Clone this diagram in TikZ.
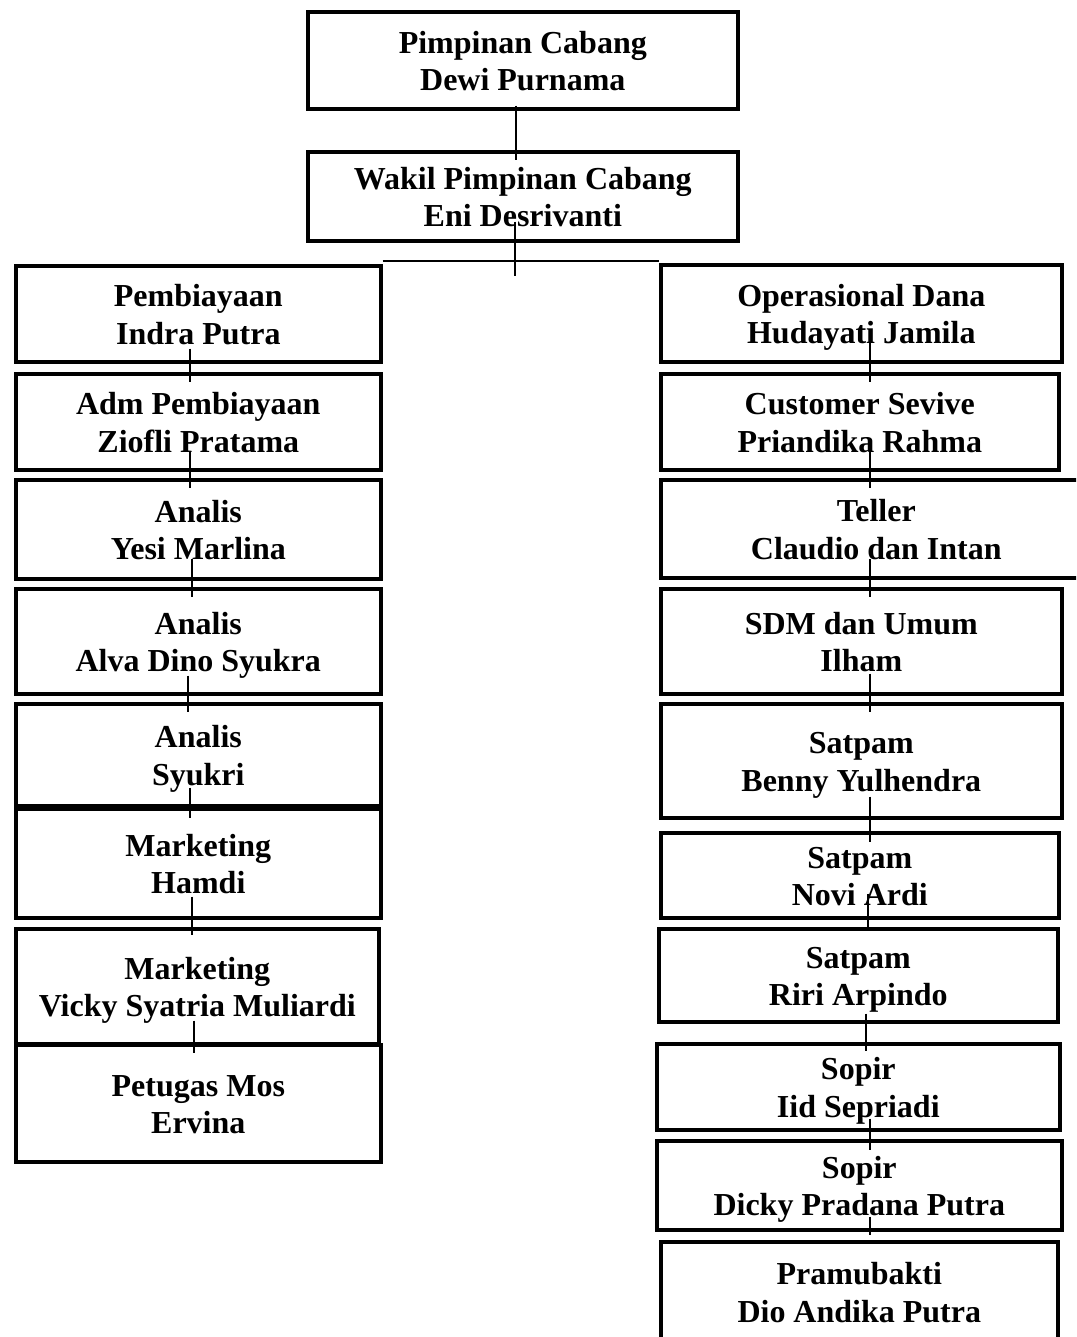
\documentclass[tikz,border=0pt]{standalone}
\usepackage{fontspec}
\setmainfont{Liberation Serif}
\def\ColL{14}
\def\ColR{659}
\def\WdL{365}
\def\WdR{401}
\tikzset{
  post/.style={
    draw=black, line width=3.6pt, anchor=north west,
    align=center, inner sep=0pt,
    font=\fontsize{32}{37.5}\selectfont\bfseries,
    execute at begin node={\rule{0pt}{68pt}}, execute at end node={\rule[-7pt]{0pt}{7pt}},
  },
  link/.style={line width=1.8pt, draw=black},
}

\begin{document}
\begin{tikzpicture}[x=1pt,y=-1pt]
  \useasboundingbox (0,0) rectangle (1076,1337);
  \clip (0,0) rectangle (1076,1337);

  % pimpinan
  \node[post, minimum width=430, minimum height=97] (pc) at (306,10) {Pimpinan Cabang\\Dewi Purnama};
  \node[post, minimum width=430, minimum height=89] (wpc) at (306,150) {Wakil Pimpinan Cabang\\Eni Desrivanti};

  % kolom kiri
  \node[post, minimum width=\WdL, minimum height=96] (pby) at (\ColL,264) {Pembiayaan\\Indra Putra};
  \node[post, minimum width=\WdL, minimum height=96] (adm) at (\ColL,372) {Adm Pembiayaan\\Ziofli Pratama};
  \node[post, minimum width=\WdL, minimum height=99] (an1) at (\ColL,478) {Analis\\Yesi Marlina};
  \node[post, minimum width=\WdL, minimum height=105] (an2) at (\ColL,587) {Analis\\Alva Dino Syukra};
  \node[post, minimum width=\WdL, minimum height=102] (an3) at (\ColL,702) {Analis\\Syukri};
  \node[post, minimum width=\WdL, minimum height=109] (mk1) at (\ColL,807) {Marketing\\Hamdi};
  \node[post, minimum width=363, minimum height=115] (mk2) at (\ColL,927) {Marketing\\Vicky Syatria Muliardi};
  \node[post, minimum width=\WdL, minimum height=117] (mos) at (\ColL,1043) {Petugas Mos\\Ervina};

  % kolom kanan
  \node[post, minimum width=\WdR, minimum height=97] (ops) at (\ColR,263) {Operasional Dana\\Hudayati Jamila};
  \node[post, minimum width=398, minimum height=96] (cs) at (\ColR,372) {Customer Sevive\\Priandika Rahma};
  \node[post, minimum width=431, minimum height=98] (tel) at (\ColR,478) {Teller\\Claudio dan Intan};
  \node[post, minimum width=\WdR, minimum height=105] (sdm) at (\ColR,587) {SDM dan Umum\\Ilham};
  \node[post, minimum width=\WdR, minimum height=114] (sp1) at (\ColR,702) {Satpam\\Benny Yulhendra};
  \node[post, minimum width=398, minimum height=85] (sp2) at (\ColR,831) {Satpam\\Novi Ardi};
  \node[post, minimum width=399, minimum height=93] (sp3) at (657,927) {Satpam\\Riri Arpindo};
  \node[post, minimum width=403, minimum height=86] (so1) at (655,1042) {Sopir\\Iid Sepriadi};
  \node[post, minimum width=405, minimum height=89] (so2) at (655,1139) {Sopir\\Dicky Pradana Putra};
  \node[post, minimum width=397, minimum height=100] (pmb) at (\ColR,1240) {Pramubakti\\Dio Andika Putra};

  % garis
  \coordinate (split) at ([xshift=-8pt,yshift=-33pt]wpc.south);
  \draw[link] ([xshift=-7pt,yshift=5pt]pc.south) -- ([xshift=-7pt,yshift=-10pt]wpc.north);
  \draw[link] ([xshift=-8pt,yshift=21pt]wpc.south) -- (split);
  \draw[link] ([yshift=3pt]pby.north east) -- ([yshift=3pt]pby.north east -| ops.west);

  \draw[link] ([xshift=-8.5pt,yshift=15pt]pby.south) -- ([xshift=-8.5pt,yshift=-10pt]adm.north);
  \draw[link] ([xshift=-8.5pt,yshift=21pt]adm.south) -- ([xshift=-8.5pt,yshift=-10pt]an1.north);
  \draw[link] ([xshift=-6.5pt,yshift=22pt]an1.south) -- ([xshift=-6.5pt,yshift=-10pt]an2.north);
  \draw[link] ([xshift=-10.5pt,yshift=20pt]an2.south) -- ([xshift=-10.5pt,yshift=-10pt]an3.north);
  \draw[link] ([xshift=-8.5pt,yshift=20pt]an3.south) -- ([xshift=-8.5pt,yshift=-11pt]mk1.north);
  \draw[link] ([xshift=-6.5pt,yshift=23pt]mk1.south) -- ([xshift=-5.5pt,yshift=-8pt]mk2.north);
  \draw[link] ([xshift=-3.5pt,yshift=25pt]mk2.south) -- ([xshift=-4.5pt,yshift=-10pt]mos.north);

  \draw[link] ([xshift=8.5pt,yshift=25pt]ops.south) -- ([xshift=10pt,yshift=-10pt]cs.north);
  \draw[link] ([xshift=10pt,yshift=21pt]cs.south) -- ([xshift=-6.5pt,yshift=-10pt]tel.north);
  \draw[link] ([xshift=-6.5pt,yshift=21pt]tel.south) -- ([xshift=8.5pt,yshift=-10pt]sdm.north);
  \draw[link] ([xshift=8.5pt,yshift=22pt]sdm.south) -- ([xshift=8.5pt,yshift=-10pt]sp1.north);
  \draw[link] ([xshift=8.5pt,yshift=23pt]sp1.south) -- ([xshift=10pt,yshift=-11pt]sp2.north);
  \draw[link] ([xshift=8.5pt,yshift=26pt]sp2.south) -- ([xshift=10pt]sp3.north);
  \draw[link] ([xshift=7.5pt,yshift=10pt]sp3.south) -- ([xshift=7.5pt,yshift=-9pt]so1.north);
  \draw[link] ([xshift=11.5pt,yshift=13pt]so1.south) -- ([xshift=10.5pt,yshift=-11pt]so2.north);
  \draw[link] ([xshift=10.5pt,yshift=15pt]so2.south) -- ([xshift=10.5pt,yshift=5pt]pmb.north);
\end{tikzpicture}
\end{document}
